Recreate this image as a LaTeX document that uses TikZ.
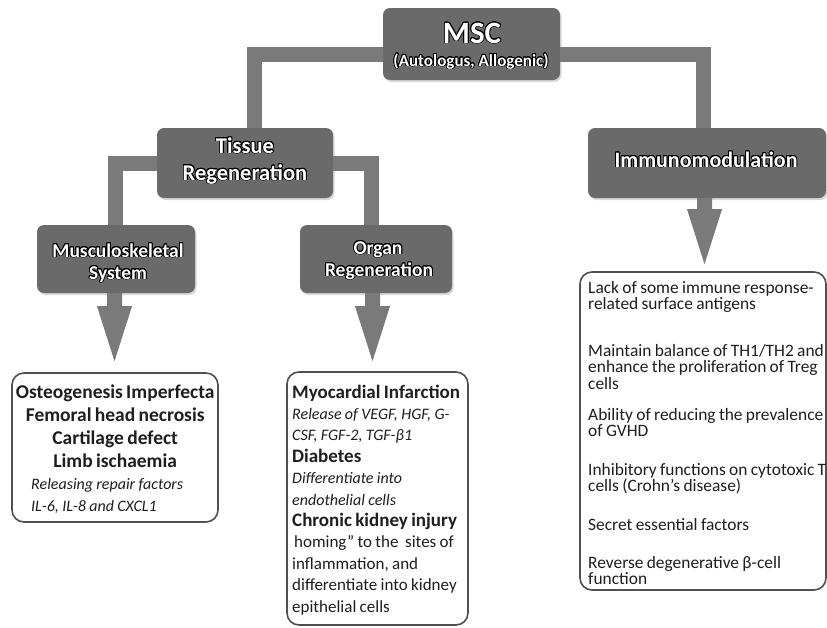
\documentclass[tikz,border=0pt]{standalone}
\usepackage{fontspec}
\setmainfont{Carlito}
\usepackage[copies]{contour}
\contourlength{0.8pt}
\contournumber{20}
\usetikzlibrary{calc,shadows}
\pgfdeclarelayer{background}
\pgfsetlayers{background,main}
\definecolor{boxgray}{HTML}{6A6A6A}
\definecolor{bargray}{HTML}{7A7A7A}
\definecolor{framegray}{HTML}{505050}
\definecolor{ink}{HTML}{1E1E1E}
\newcommand\wt[1]{\contour{black}{#1}}
\newcommand\myarrow[2]{\fill[bargray] ($(#1)+(-7.5,0)$) -- ($(#2)+(-7.5,-55)$) -- ($(#2)+(-17.5,-55)$) -- (#2) -- ($(#2)+(17.5,-55)$) -- ($(#2)+(7.5,-55)$) -- ($(#1)+(7.5,0)$) -- cycle;}
\begin{document}
\begin{tikzpicture}[x=1pt,y=-1pt,
  graybox/.style={draw=none, fill=boxgray, rounded corners=7pt, inner sep=0pt,
    drop shadow={opacity=0.3,shadow xshift=1.5pt,shadow yshift=-2pt}},
  boxlabel/.style={anchor=base, inner sep=0pt, text=white, font=\bfseries},
  bar/.style={draw=bargray, line width=15pt},
  textbox/.style={draw=framegray, line width=1.6pt, rounded corners=12pt, fill=white, inner sep=0pt},
  boxtext/.style={anchor=base west, inner sep=0pt, text=ink, text width=#1},
]
\useasboundingbox (0,0) rectangle (827,627);

% gray boxes
\node[graybox, minimum width=177, minimum height=72] (msc) at (471.5,44) {};
\node[graybox, minimum width=176, minimum height=70] (tissue) at (245,163) {};
\node[graybox, minimum width=238, minimum height=70] (immuno) at (707,163) {};
\node[graybox, minimum width=158, minimum height=68] (musc) at (116,259) {};
\node[graybox, minimum width=152, minimum height=68] (organ) at (376,259) {};

\node[boxlabel, font=\bfseries\fontsize{31}{31}\selectfont] (msct) at (472,43) {\wt{MSC}};
\node[boxlabel, font=\bfseries\fontsize{17}{17}\selectfont] (msct2) at (471,66) {\wt{(Autologus, Allogenic)}};
\node[boxlabel, font=\bfseries\fontsize{22.5}{22.5}\selectfont] (tist1) at (245,153) {\wt{Tissue}};
\node[boxlabel, font=\bfseries\fontsize{22.5}{22.5}\selectfont] (tist2) at (245,180) {\wt{Regeneration}};
\node[boxlabel, font=\bfseries\fontsize{22}{22}\selectfont] (immt) at (706,167) {\wt{Immunomodulation}};
\node[boxlabel, font=\bfseries\fontsize{19.5}{19.5}\selectfont] (must1) at (118,257) {\wt{Musculoskeletal}};
\node[boxlabel, font=\bfseries\fontsize{19.5}{19.5}\selectfont] (must2) at (118,279) {\wt{System}};
\node[boxlabel, font=\bfseries\fontsize{19.5}{19.5}\selectfont] (orgt1) at (378,254) {\wt{Organ}};
\node[boxlabel, font=\bfseries\fontsize{19.5}{19.5}\selectfont] (orgt2) at (379,276) {\wt{Regeneration}};

% white text boxes
\node[textbox, minimum width=206, minimum height=149] (lbox) at (115,447.5) {};
\node[textbox, minimum width=181, minimum height=253] (obox) at (377.5,498.5) {};
\node[textbox, minimum width=246, minimum height=318] (rbox) at (703,431) {};

\node[boxtext=200] (ltext) at (15,398) {\fontsize{19.5}{23.3}\selectfont\bfseries\centering
Osteogenesis Imperfecta\\Femoral head necrosis\\Cartilage defect\\Limb ischaemia\par
\fontsize{16}{22}\selectfont\mdseries\itshape\raggedright\leftskip=16pt
Releasing repair factors\\IL-6, IL-8 and CXCL1\par};

\node[boxtext=185] (otext) at (292,398) {\raggedright\fontsize{19}{21.4}\selectfont
\textbf{Myocardial Infarction}\\
{\fontsize{16}{21.4}\selectfont\itshape Release of VEGF, HGF, G-}\\
{\fontsize{16}{21.4}\selectfont\itshape CSF, FGF-2, TGF-β1}\\
\textbf{Diabetes}\\
{\fontsize{16}{21.4}\selectfont\itshape Differentiate into}\\
{\fontsize{16}{21.4}\selectfont\itshape endothelial cells}\\
\textbf{Chronic kidney injury}\\
{\fontsize{17}{21.4}\selectfont \hspace*{2pt}homing” to the\ \ sites of}\\
{\fontsize{17}{21.4}\selectfont inflammation, and}\\
{\fontsize{17}{21.4}\selectfont differentiate into kidney}\\
{\fontsize{17}{21.4}\selectfont epithelial cells}\par};

\node[boxtext=300] (rtext) at (588,293) {\raggedright\fontsize{17.4}{16.5}\selectfont
Lack of some immune response-\\
related surface antigens\\[30pt]
Maintain balance of TH1/TH2 and\\
enhance the proliferation of Treg\\
cells\\[14.5pt]
Ability of reducing the prevalence\\
of GVHD\\[22pt]
Inhibitory functions on cytotoxic T\\
cells (Crohn’s disease)\\[22pt]
Secret essential factors\\[21.5pt]
Reverse degenerative β-cell\\
function\par};

% connectors
\coordinate (ma) at ([xshift=-1.5pt]musc.south);
\coordinate (mt) at ($(ma |- lbox.north)+(0,-11)$);
\coordinate (oa) at ([xshift=-3.5pt]organ.south);
\coordinate (ot) at ($(oa |- obox.north)+(0,-10)$);
\coordinate (ia) at ([xshift=-2.5pt]immuno.south);
\coordinate (it) at ($(ia |- rbox.north)+(0,-7)$);
\begin{pgfonlayer}{background}
\fill[white] (0,0) rectangle (827,627);
\draw[bar] ([yshift=-10pt]msc.west) -| ([xshift=9.5pt]tissue.north);
\draw[bar] ([yshift=-10pt]msc.east) -| ([xshift=-3.5pt]immuno.north);
\draw[bar] (tissue.west) -| ([xshift=-1pt]musc.north);
\draw[bar] (tissue.east) -| ([xshift=-4.5pt]organ.north);
\myarrow{ma}{mt}
\myarrow{oa}{ot}
\myarrow{ia}{it}
\end{pgfonlayer}
\end{tikzpicture}
\end{document}
